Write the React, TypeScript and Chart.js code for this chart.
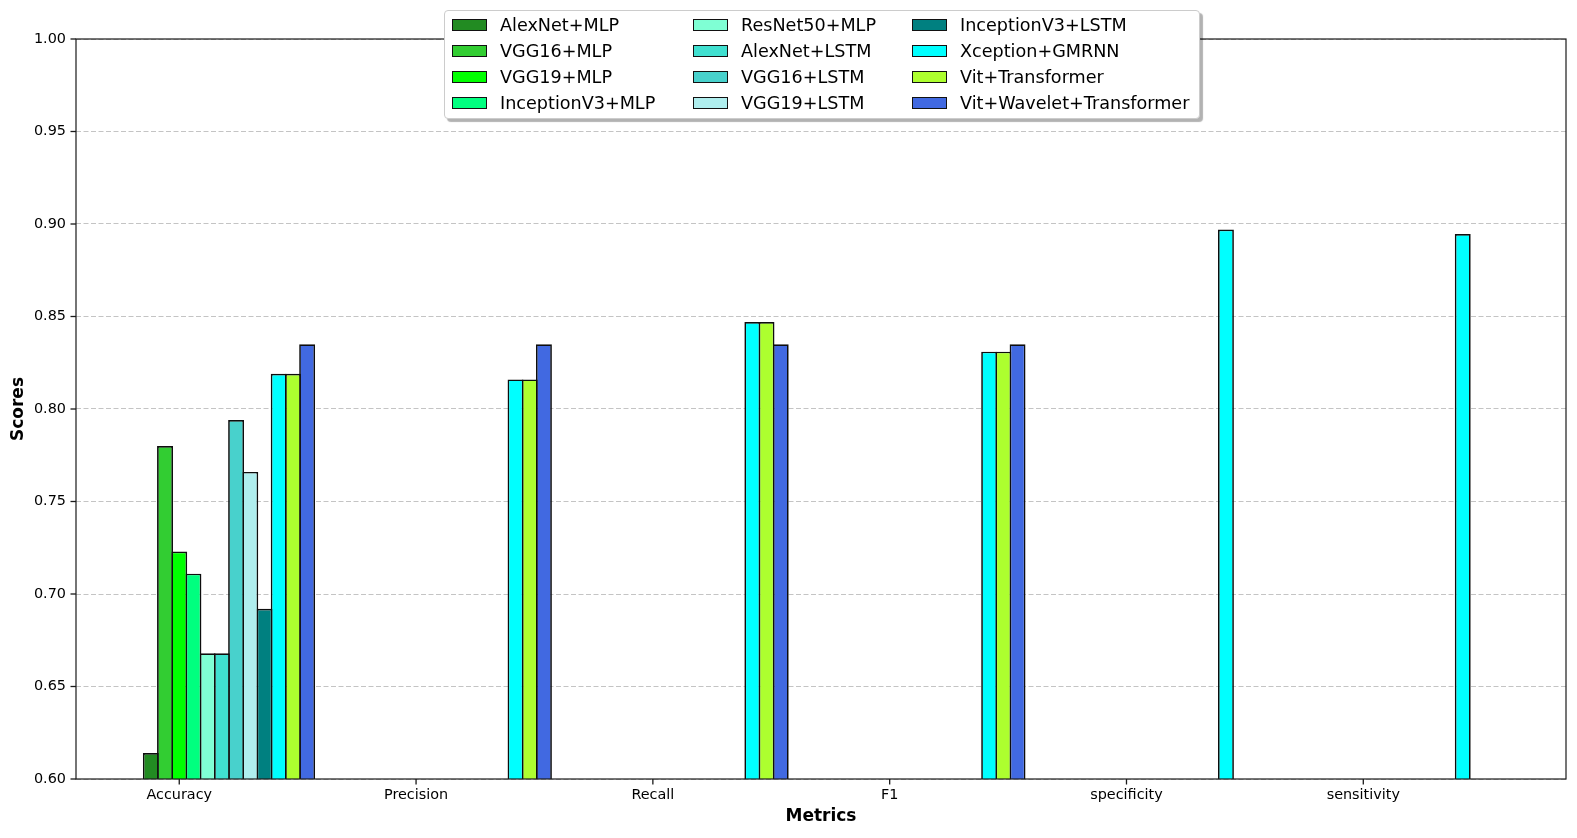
import React, { useEffect, useRef } from "react";
import { Chart, registerables } from "chart.js";

Chart.register(...registerables);

const CATEGORIES = ["Accuracy", "Precision", "Recall", "F1", "specificity", "sensitivity"];

const MODELS = [
  "AlexNet+MLP",
  "VGG16+MLP",
  "VGG19+MLP",
  "InceptionV3+MLP",
  "ResNet50+MLP",
  "AlexNet+LSTM",
  "VGG16+LSTM",
  "VGG19+LSTM",
  "InceptionV3+LSTM",
  "Xception+GMRNN",
  "Vit+Transformer",
  "Vit+Wavelet+Transformer",
];

const COLORS = [
  "#228B22",
  "#32CD32",
  "#00FF00",
  "#00FF7F",
  "#7FFFD4",
  "#40E0D0",
  "#48D1CC",
  "#AFEEEE",
  "#008080",
  "#00FFFF",
  "#ADFF2F",
  "#4169E1",
];

// Scores per model, in CATEGORIES order (null = not reported)
const ALEXNET_MLP = [0.614, null, null, null, null, null];
const VGG16_MLP = [0.78, null, null, null, null, null];
const VGG19_MLP = [0.723, null, null, null, null, null];
const INCEPTIONV3_MLP = [0.711, null, null, null, null, null];
const RESNET50_MLP = [0.668, null, null, null, null, null];
const ALEXNET_LSTM = [0.668, null, null, null, null, null];
const VGG16_LSTM = [0.794, null, null, null, null, null];
const VGG19_LSTM = [0.766, null, null, null, null, null];
const INCEPTIONV3_LSTM = [0.692, null, null, null, null, null];
const XCEPTION_GMRNN = [0.819, 0.816, 0.847, 0.831, 0.897, 0.8946];
const VIT_TRANSFORMER = [0.819, 0.816, 0.847, 0.831, null, null];
const VIT_WAVELET_TRANSFORMER = [0.835, 0.835, 0.835, 0.835, null, null];

const SERIES: (number | null)[][] = [
  ALEXNET_MLP,
  VGG16_MLP,
  VGG19_MLP,
  INCEPTIONV3_MLP,
  RESNET50_MLP,
  ALEXNET_LSTM,
  VGG16_LSTM,
  VGG19_LSTM,
  INCEPTIONV3_LSTM,
  XCEPTION_GMRNN,
  VIT_TRANSFORMER,
  VIT_WAVELET_TRANSFORMER,
];

const Y_TICKS = [0.6, 0.65, 0.7, 0.75, 0.8, 0.85, 0.9, 0.95, 1.0];

const BAR_W = 0.06;
const FONT = "'DejaVu Sans', sans-serif";

const framePlugin = {
  id: "frame",
  afterDraw(chart: any) {
    const ctx = chart.ctx;
    const area = chart.chartArea;
    const xs = chart.scales.x;
    const ys = chart.scales.y;
    ctx.save();
    ctx.strokeStyle = "#1a1a1a";
    ctx.lineWidth = 1.2;
    ctx.strokeRect(area.left, area.top, area.right - area.left, area.bottom - area.top);
    ctx.fillStyle = "#1a1a1a";
    for (let k = 0; k < CATEGORIES.length; k++) {
      const x = xs.getPixelForValue(k);
      ctx.fillRect(x - 0.65, area.bottom, 1.3, 5.5);
    }
    for (const v of Y_TICKS) {
      const y = ys.getPixelForValue(v);
      ctx.fillRect(area.left - 5.5, y - 0.65, 5.5, 1.3);
    }
    ctx.restore();
  },
};

const LEGEND_COL_X = [7, 248, 467];

export default function App() {
  const ref = useRef<HTMLCanvasElement>(null);

  useEffect(() => {
    document.body.style.margin = "0";
    const datasets = MODELS.map((name, i) => ({
      label: name,
      data: SERIES[i]
        .map((v, k) => (v === null ? null : { x: k + (i - 2) * BAR_W, y: v }))
        .filter((p) => p !== null),
      backgroundColor: COLORS[i],
      borderColor: "#0d0d0d",
      borderWidth: 1.7,
      grouped: false,
      categoryPercentage: 1,
      barPercentage: 1.12,
    }));

    const chart = new Chart(ref.current as HTMLCanvasElement, {
      type: "bar",
      data: { datasets } as any,
      plugins: [framePlugin],
      options: {
        animation: false,
        responsive: false,
        maintainAspectRatio: false,
        layout: { padding: { top: 39, right: 11, left: 0, bottom: 0 } },
        plugins: { legend: { display: false }, tooltip: { enabled: false } },
        scales: {
          x: {
            type: "linear",
            min: -0.436,
            max: 5.856,
            offset: false,
            afterBuildTicks: (scale: any) => {
              scale.ticks = CATEGORIES.map((_, k) => ({ value: k }));
            },
            afterFit: (scale: any) => {
              scale.height = 59;
            },
            ticks: {
              callback: (v: any) => CATEGORIES[Math.round(Number(v))] ?? "",
              font: { family: FONT, size: 14.4 },
              color: "#000",
              padding: 3,
              maxRotation: 0,
              autoSkip: false,
            },
            grid: {
              display: true,
              offset: false,
              drawOnChartArea: false,
              drawTicks: true,
              tickLength: 5,
              tickColor: "rgba(0,0,0,0)",
            },
            border: { display: false },
            title: {
              display: true,
              text: "Metrics",
              font: { family: FONT, size: 17, weight: "bold" },
              color: "#000",
              padding: { top: 0, bottom: 11 },
            },
          },
          y: {
            type: "linear",
            min: 0.6,
            max: 1.0,
            afterBuildTicks: (scale: any) => {
              scale.ticks = Y_TICKS.map((v) => ({ value: v }));
            },
            afterFit: (scale: any) => {
              scale.width = 76;
            },
            ticks: {
              callback: (v: any) => Number(v).toFixed(2),
              font: { family: FONT, size: 14.4 },
              color: "#000",
              padding: 5,
            },
            grid: {
              display: true,
              drawOnChartArea: true,
              drawTicks: true,
              tickLength: 5,
              color: "rgba(176,176,176,0.75)",
              lineWidth: 1,
              tickColor: "rgba(0,0,0,0)",
            },
            border: { display: false, dash: [5, 2.5] },
            title: {
              display: true,
              text: "Scores",
              font: { family: FONT, size: 17, weight: "bold" },
              color: "#000",
              padding: { top: 8, bottom: 0 },
            },
          },
        },
      } as any,
    });
    return () => chart.destroy();
  }, []);

  return (
    <div style={{ position: "relative", width: 1577, height: 838, background: "#fff", fontFamily: FONT }}>
      <canvas ref={ref} width={1577} height={838} style={{ width: 1577, height: 838, display: "block" }} />
      <div
        style={{
          position: "absolute",
          left: 444,
          top: 10,
          width: 756,
          height: 109,
          boxSizing: "border-box",
          background: "#fff",
          border: "1px solid #cccccc",
          borderRadius: 4,
          boxShadow: "3px 3px 1px rgba(0,0,0,0.3)",
        }}
      >
        {MODELS.map((name, i) => {
          const col = Math.floor(i / 4);
          const row = i % 4;
          return (
            <div
              key={name}
              style={{
                position: "absolute",
                left: LEGEND_COL_X[col],
                top: 13.5 + row * 26.1 - 11,
                height: 22,
                display: "flex",
                alignItems: "center",
                whiteSpace: "nowrap",
                fontSize: 17.6,
                color: "#000",
                lineHeight: "22px",
              }}
            >
              <span
                style={{
                  display: "inline-block",
                  width: 35,
                  height: 12,
                  boxSizing: "border-box",
                  background: COLORS[i],
                  border: "1.4px solid #111",
                  marginRight: 13,
                }}
              />
              <span>{name}</span>
            </div>
          );
        })}
      </div>
    </div>
  );
}
